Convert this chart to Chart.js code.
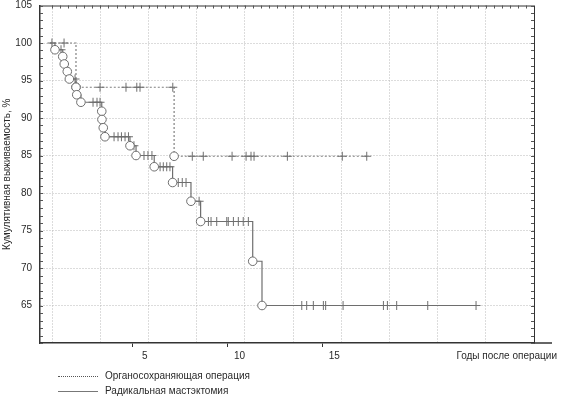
<!DOCTYPE html>
<html><head><meta charset="utf-8">
<script src="https://cdn.jsdelivr.net/npm/chart.js@4.4.1/dist/chart.umd.min.js"></script>
<style>
html,body{margin:0;padding:0;background:#fff;}
#wrap{position:relative;width:562px;height:400px;font-family:"Liberation Sans",Arial,sans-serif;color:#2a2a2a;}
canvas{position:absolute;left:0;top:0;}
.t{position:absolute;font-size:10px;line-height:12px;white-space:nowrap;}
.ln{position:absolute;width:40px;height:0;}
</style></head><body>
<div id="wrap">
<canvas id="c" width="562" height="400"></canvas>
<div class="t" style="right:5px;top:350px;">Годы после операции</div>
<div class="ln" style="left:58px;top:376px;border-top:1px dotted #555;"></div>
<div class="t" style="left:105px;top:370px;">Органосохраняющая операция</div>
<div class="ln" style="left:58px;top:391px;border-top:1px solid #777;"></div>
<div class="t" style="left:105px;top:385px;">Радикальная мастэктомия</div>
</div>
<script>
// ---- data (years after surgery, cumulative survival %) ----
const xTickYears = [5, 10, 15];
const yTickValues = [65, 70, 75, 80, 85, 90, 95, 100, 105];

// Органосохраняющая операция
const bcsStartYear = 0.63;
const bcsEventYears = [2.00, 7.18];
const bcsEventSurv = [94.1, 84.9];
const bcsCensorYears = [1.37, 3.27, 4.64, 5.21, 5.38, 7.11, 8.14, 8.72, 10.24, 10.98, 11.24, 11.40, 13.16, 16.06, 17.35];
const bcsCensorSurv = [100, 94.1, 94.1, 94.1, 94.1, 94.1, 84.9, 84.9, 84.9, 84.9, 84.9, 84.9, 84.9, 84.9, 84.9];
const bcsEndYear = 17.35;

// Радикальная мастэктомия
const rmStartYear = 0.63;
const rmEventYears = [0.89, 1.30, 1.38, 1.54, 1.65, 2.00, 2.04, 2.26, 3.36, 3.37, 3.44, 3.53, 4.85, 5.17, 6.13, 7.10, 8.07, 8.58, 11.33, 11.82];
const rmEventSurv = [99.1, 98.2, 97.2, 96.2, 95.2, 94.1, 93.1, 92.1, 90.9, 89.8, 88.7, 87.5, 86.3, 85.0, 83.5, 81.4, 78.9, 76.2, 70.9, 65.0];
const rmCensorYears = [0.73, 1.21, 1.95, 2.90, 3.11, 3.27, 4.01, 4.22, 4.40, 4.59, 4.77, 5.06, 5.59, 5.80, 6.01, 6.44, 6.61, 6.79, 6.96, 7.40, 7.61, 7.81, 8.50, 8.99, 9.13, 9.43, 9.96, 10.04, 10.31, 10.57, 10.83, 11.10, 13.92, 14.18, 14.53, 15.06, 15.18, 16.10, 18.23, 18.44, 18.93, 20.57, 23.12];
const rmCensorSurv = [100, 99.1, 95.2, 92.1, 92.1, 92.1, 87.5, 87.5, 87.5, 87.5, 87.5, 86.3, 85.0, 85.0, 85.0, 83.5, 83.5, 83.5, 83.5, 81.4, 81.4, 81.4, 78.9, 76.2, 76.2, 76.2, 76.2, 76.2, 76.2, 76.2, 76.2, 76.2, 65.0, 65.0, 65.0, 65.0, 65.0, 65.0, 65.0, 65.0, 65.0, 65.0, 65.0];
const rmEndYear = 23.23;

// ---- build ----
const pts = (xs, ys) => xs.map((x, i) => ({x: x, y: ys[i]}));
const stepLine = (start, ex, ey, end) => [{x: start, y: 100}].concat(pts(ex, ey), [{x: end, y: ey[ey.length - 1]}]);

const LINE = '#6e6e6e';
const TXT = '#2a2a2a';
const AX = '#333';
const GRID = '#b8b8b8';
const F = {family: '"Liberation Sans", Arial, sans-serif', size: 10};

const frame = {
  id: 'frame',
  afterDraw(chart) {
    const {ctx, chartArea: a, scales} = chart;
    const ys = scales.y, xg = scales.x2;
    ctx.save();
    ctx.strokeStyle = AX;
    ctx.lineWidth = 1;
    ctx.beginPath();
    ctx.moveTo(a.left, a.top + 0.5); ctx.lineTo(a.right, a.top + 0.5);
    ctx.moveTo(a.right + 0.5, a.top); ctx.lineTo(a.right + 0.5, a.bottom);
    ctx.stroke();
    ctx.lineWidth = 1.5;
    ctx.beginPath();
    ctx.moveTo(a.right, a.bottom); ctx.lineTo(a.right + 18, a.bottom);
    ctx.stroke();
    ctx.lineWidth = 1;
    ctx.strokeStyle = '#555';
    ctx.beginPath();
    for (let v = ys.min; v <= ys.max; v += 1) {
      const y = Math.round(ys.getPixelForValue(v)) + 0.5;
      ctx.moveTo(a.left, y); ctx.lineTo(a.left + 3, y);
      ctx.moveTo(a.right - 3, y); ctx.lineTo(a.right, y);
    }
    for (let k = 0; k <= 60; k++) {
      const x = Math.round(xg.getPixelForValue(k / 6)) + 0.5;
      if (x < a.left || x > a.right) continue;
      ctx.moveTo(x, a.top); ctx.lineTo(x, a.top + 3);
    }
    ctx.stroke();
    ctx.restore();
  }
};

new Chart(document.getElementById('c'), {
  type: 'scatter',
  data: {
    datasets: [
      {label: 'rmEvents', data: pts(rmEventYears, rmEventSurv), showLine: false, pointStyle: 'circle', pointRadius: 4.3, backgroundColor: '#fff', borderColor: LINE, borderWidth: 1},
      {label: 'bcsEvents', data: pts(bcsEventYears, bcsEventSurv), showLine: false, pointStyle: 'circle', pointRadius: 4.3, backgroundColor: '#fff', borderColor: LINE, borderWidth: 1},
      {label: 'rmCensor', data: pts(rmCensorYears, rmCensorSurv), showLine: false, pointStyle: 'cross', pointRadius: 4.5, borderColor: LINE, borderWidth: 1},
      {label: 'bcsCensor', data: pts(bcsCensorYears, bcsCensorSurv), showLine: false, pointStyle: 'cross', pointRadius: 4.5, borderColor: LINE, borderWidth: 1},
      {label: 'Радикальная мастэктомия', data: stepLine(rmStartYear, rmEventYears, rmEventSurv, rmEndYear), showLine: true, stepped: true, borderColor: LINE, borderWidth: 1.2, pointRadius: 0, fill: false},
      {label: 'Органосохраняющая операция', data: stepLine(bcsStartYear, bcsEventYears, bcsEventSurv, bcsEndYear), showLine: true, stepped: true, borderColor: '#808080', borderDash: [2, 2], borderWidth: 1.2, pointRadius: 0, fill: false}
    ]
  },
  options: {
    responsive: false,
    animation: false,
    devicePixelRatio: 1,
    layout: {padding: {left: 0, right: 28, top: 3, bottom: 37}},
    plugins: {legend: {display: false}, tooltip: {enabled: false}},
    scales: {
      x: {
        type: 'linear', position: 'bottom', min: 0.1, max: 26.18,
        afterBuildTicks: s => { s.ticks = xTickYears.map(v => ({value: v})); },
        ticks: {font: F, color: TXT, padding: 3, labelOffset: 12, maxRotation: 0, autoSkip: false},
        grid: {drawOnChartArea: false, drawTicks: true, tickLength: 4, tickColor: AX, tickWidth: 1},
        border: {display: true, color: AX, width: 1.5},
        afterFit: s => { s.height = 20; s.paddingLeft = 0; s.paddingRight = 0; }
      },
      x2: {
        type: 'linear', position: 'bottom', min: -0.255, max: 10,
        afterBuildTicks: s => { s.ticks = [0, 1, 2, 3, 4, 5, 6, 7, 8, 9].map(v => ({value: v})); },
        ticks: {display: false},
        grid: {drawOnChartArea: true, drawTicks: false, color: GRID, lineWidth: 1},
        border: {display: false, dash: [1, 2]},
        afterFit: s => { s.height = 0; s.paddingLeft = 0; s.paddingRight = 0; }
      },
      y: {
        type: 'linear', position: 'left', min: 60, max: 105,
        afterBuildTicks: s => { s.ticks = yTickValues.map(v => ({value: v})); },
        ticks: {font: F, color: TXT, padding: 8},
        grid: {drawTicks: false, lineWidth: 1, color: c => (c.tick && c.tick.value === 105) ? 'rgba(0,0,0,0)' : GRID},
        border: {display: true, color: AX, width: 1.5, dash: [1, 2]},
        title: {display: true, text: 'Кумулятивная выживаемость, %', font: F, color: TXT, padding: {top: 1, bottom: 0}},
        afterFit: s => { s.width = 40; s.paddingTop = 0; s.paddingBottom = 0; }
      }
    }
  },
  plugins: [frame]
});
</script>
</body></html>
